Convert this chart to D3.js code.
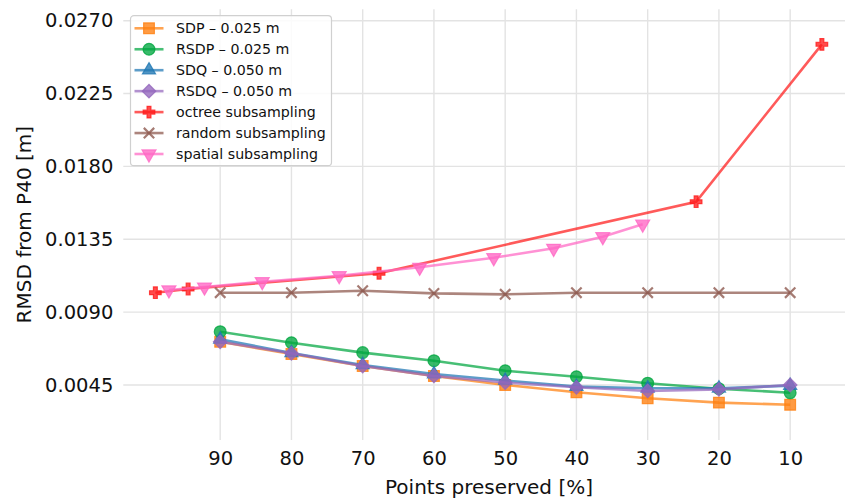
<!DOCTYPE html>
<html>
<head>
<meta charset="utf-8">
<script src="https://cdn.jsdelivr.net/npm/d3@7"></script>
<style>
  body { margin: 0; background: #fff; }
  svg { font-family: "DejaVu Sans", sans-serif; }
</style>
</head>
<body>
<div id="wrapper"></div>
<script>
// percent preserved (x) shared by the fixed-grid methods
const pctGrid = [90, 80, 70, 60, 50, 40, 30, 20, 10];
const sdp  = [0.00717, 0.00641, 0.00567, 0.00506, 0.00450, 0.00405, 0.00368, 0.00341, 0.00328];
const rsdp = [0.00779, 0.00711, 0.00650, 0.00600, 0.00538, 0.00501, 0.00461, 0.00427, 0.00402];
const sdq  = [0.00732, 0.00648, 0.00574, 0.00518, 0.00478, 0.00440, 0.00430, 0.00430, 0.00446];
const rsdq = [0.00717, 0.00646, 0.00567, 0.00506, 0.00465, 0.00436, 0.00413, 0.00423, 0.00450];
const randomVals = [0.01020, 0.01020, 0.01032, 0.01016, 0.01010, 0.01020, 0.01020, 0.01020, 0.01020];

const octreePct = [99.1, 94.5, 67.7, 23.2, 5.55];
const octreeVals = [0.01020, 0.01043, 0.01140, 0.01582, 0.02554];

const spatialPct = [97.2, 92.2, 84.1, 73.3, 62.0, 51.6, 43.2, 36.3, 30.7];
const spatialVals = [0.01037, 0.01055, 0.01088, 0.01125, 0.01177, 0.01236, 0.01294, 0.01366, 0.01443];

const yTicks = [0.0045, 0.0090, 0.0135, 0.0180, 0.0225, 0.0270];
const xTicks = [90, 80, 70, 60, 50, 40, 30, 20, 10];

const seriesNames = ["SDP \u2013 0.025 m", "RSDP \u2013 0.025 m", "SDQ \u2013 0.050 m", "RSDQ \u2013 0.050 m",
  "octree subsampling", "random subsampling", "spatial subsampling"];

const zip = (xs, ys) => xs.map((x, i) => ({ x: x, y: ys[i] }));

const series = [
  { name: seriesNames[0], data: zip(pctGrid, sdp), color: "#ff7f0e", marker: "square" },
  { name: seriesNames[1], data: zip(pctGrid, rsdp), color: "#00a640", marker: "circle" },
  { name: seriesNames[2], data: zip(pctGrid, sdq), color: "#1f77b4", marker: "triangle" },
  { name: seriesNames[3], data: zip(pctGrid, rsdq), color: "#9467bd", marker: "diamond" },
  { name: seriesNames[4], data: zip(octreePct, octreeVals), color: "#ff1a1a", marker: "plus" },
  { name: seriesNames[5], data: zip(pctGrid, randomVals), color: "#8c564b", marker: "times" },
  { name: seriesNames[6], data: zip(spatialPct, spatialVals), color: "#ff66c4", marker: "tridown" }
];

let dimensions = {
  width: 845,
  height: 500,
  left: 123.3,
  right: 855,
  top: 9.3,
  bottom: 440
};

const svg = d3.select("#wrapper").append("svg")
  .attr("width", dimensions.width)
  .attr("height", dimensions.height);

const xScale = d3.scaleLinear().domain([103.6, 0.9]).range([dimensions.left, dimensions.right]);
const yScale = d3.scaleLinear().domain([0.001103, 0.027704]).range([dimensions.bottom, dimensions.top]);

// grid
const grid = svg.append("g");
grid.selectAll(".gx").data(xTicks).enter().append("line")
  .attr("x1", d => xScale(d)).attr("x2", d => xScale(d))
  .attr("y1", dimensions.top).attr("y2", dimensions.bottom)
  .attr("stroke", "#e3e3e3").attr("stroke-width", 1.4);
grid.selectAll(".gy").data(yTicks).enter().append("line")
  .attr("x1", dimensions.left).attr("x2", dimensions.right)
  .attr("y1", d => yScale(d)).attr("y2", d => yScale(d))
  .attr("stroke", "#e3e3e3").attr("stroke-width", 1.4);

// axes (labels only, no spines / ticks)
const xAxis = svg.append("g")
  .attr("transform", `translate(0,${dimensions.bottom})`)
  .call(d3.axisBottom(xScale).tickValues(xTicks).tickSize(0).tickPadding(11));
const yAxis = svg.append("g")
  .attr("transform", `translate(${dimensions.left},0)`)
  .call(d3.axisLeft(yScale).tickValues(yTicks).tickFormat(d3.format(".4f")).tickSize(0).tickPadding(10));
[xAxis, yAxis].forEach(a => {
  a.select(".domain").remove();
  a.selectAll("text").attr("font-family", "DejaVu Sans").attr("font-size", 19.5).attr("fill", "#111");
});

svg.append("text")
  .attr("x", 489)
  .attr("y", 494)
  .attr("text-anchor", "middle")
  .attr("font-size", 20).attr("fill", "#111")
  .text("Points preserved [%]");

svg.append("text")
  .attr("transform", `translate(31,${(dimensions.top + dimensions.bottom) / 2}) rotate(-90)`)
  .attr("text-anchor", "middle")
  .attr("font-size", 20).attr("fill", "#111")
  .text("RMSD from P40 [m]");

// marker shapes
function markerPath(kind) {
  if (kind === "square") return d3.symbol(d3.symbolSquare, 115)();
  if (kind === "circle") return d3.symbol(d3.symbolCircle, 110)();
  if (kind === "triangle") return d3.symbol(d3.symbolTriangle, 75)();
  if (kind === "diamond") return d3.symbol(d3.symbolSquare, 92)();
  if (kind === "plus") return d3.symbol(d3.symbolCross, 75)();
  if (kind === "times") return d3.symbol(d3.symbolTimes, 72)();
  if (kind === "tridown") return d3.symbol(d3.symbolTriangle, 85)();
}
function markerRotate(kind) {
  if (kind === "diamond") return " rotate(45)";
  if (kind === "tridown") return " rotate(180)";
  return "";
}

const line = d3.line().x(d => xScale(d.x)).y(d => yScale(d.y));

const plot = svg.append("g");
series.forEach(s => {
  const g = plot.append("g");
  g.append("path")
    .attr("d", line(s.data))
    .attr("fill", "none")
    .attr("stroke", s.color)
    .attr("stroke-width", 2.6)
    .attr("stroke-opacity", 0.72);
  g.selectAll("path.m").data(s.data).enter().append("path")
    .attr("class", "m")
    .attr("d", markerPath(s.marker))
    .attr("transform", d => `translate(${xScale(d.x)},${yScale(d.y)})` + markerRotate(s.marker))
    .attr("fill", s.marker === "times" ? "none" : s.color)
    .attr("fill-opacity", 0.78)
    .attr("stroke", s.color)
    .attr("stroke-opacity", 0.78)
    .attr("stroke-width", s.marker === "times" ? 2.2 : 1.2);
});

// legend
const legend = svg.append("g");
legend.append("rect")
  .attr("x", 130.5).attr("y", 15.7)
  .attr("width", 201).attr("height", 150)
  .attr("rx", 3.5)
  .attr("fill", "#fff").attr("fill-opacity", 0.85)
  .attr("stroke", "#d0d0d0").attr("stroke-width", 1.2);
series.forEach((s, i) => {
  const yy = 28.3 + i * 20.95;
  const row = legend.append("g");
  row.append("line")
    .attr("x1", 134.5).attr("x2", 163.5)
    .attr("y1", yy).attr("y2", yy)
    .attr("stroke", s.color).attr("stroke-width", 2.6).attr("stroke-opacity", 0.72);
  row.append("path")
    .attr("d", markerPath(s.marker))
    .attr("transform", `translate(149,${yy})` + markerRotate(s.marker))
    .attr("fill", s.marker === "times" ? "none" : s.color)
    .attr("fill-opacity", 0.78)
    .attr("stroke", s.color)
    .attr("stroke-opacity", 0.78)
    .attr("stroke-width", s.marker === "times" ? 2.2 : 1.2);
  row.append("text")
    .attr("x", 176).attr("y", yy)
    .attr("dy", "0.36em")
    .attr("font-size", 14.2).attr("fill", "#111")
    .text(s.name);
});
</script>
</body>
</html>
